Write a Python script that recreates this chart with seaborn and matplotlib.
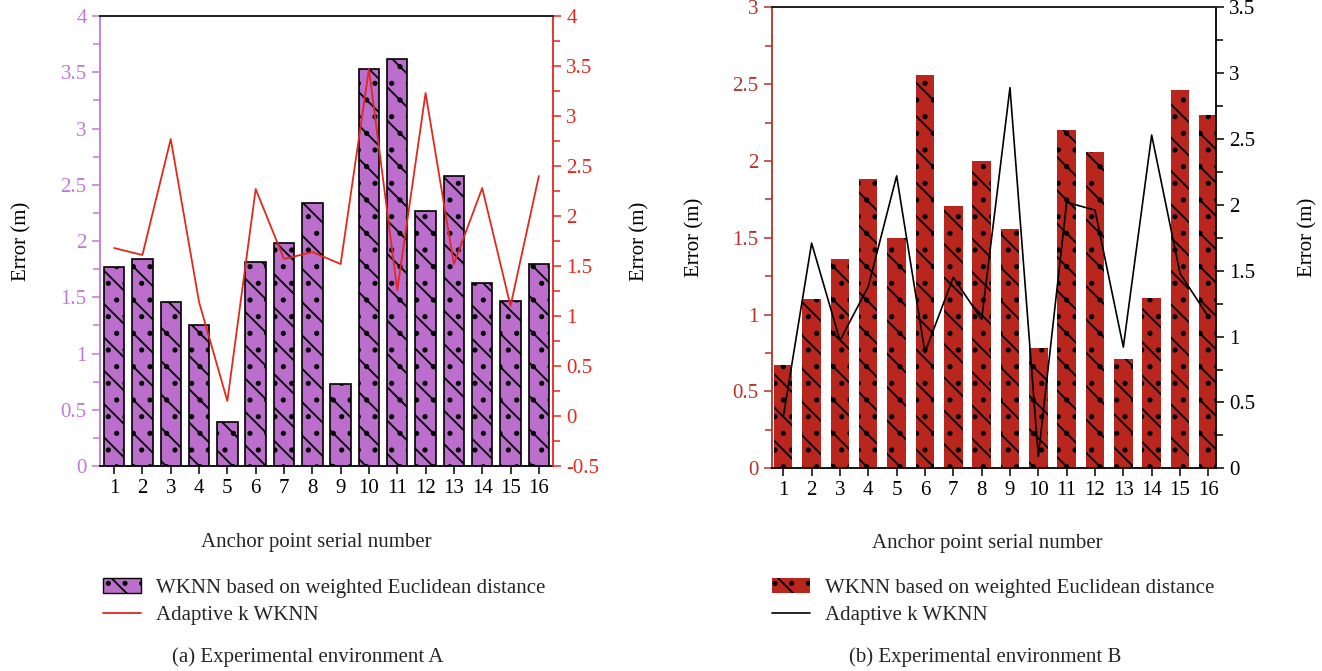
import matplotlib
matplotlib.use("Agg")
import matplotlib.pyplot as plt
import seaborn as sns
from matplotlib.lines import Line2D
from matplotlib.patches import Patch
from matplotlib.ticker import FuncFormatter, MultipleLocator

# Values (error in metres per anchor point)
anchors = list(range(1, 17))
wknn_a = [1.77, 1.84, 1.46, 1.25, 0.39, 1.81, 1.98, 2.34,
          0.73, 3.53, 3.62, 2.27, 2.58, 1.63, 1.47, 1.80]
adaptive_a = [1.68, 1.61, 2.77, 1.14, 0.15, 2.27, 1.57, 1.64,
              1.52, 3.47, 1.26, 3.23, 1.52, 2.28, 1.10, 2.40]
wknn_b = [0.67, 1.10, 1.36, 1.88, 1.50, 2.56, 1.71, 2.00,
          1.56, 0.78, 2.20, 2.06, 0.71, 1.11, 2.46, 2.30]
adaptive_b = [0.39, 1.71, 0.97, 1.38, 2.22, 0.88, 1.45, 1.13,
              2.89, 0.09, 2.02, 1.96, 0.92, 2.53, 1.48, 1.15]

bar_label = "WKNN based on weighted Euclidean distance"
line_label = "Adaptive k WKNN"

PURPLE = "#bb6ecb"
PURPLE_AXIS = "#c07ad6"
RED_LINE = "#e3281d"
RED_BAR = "#b9261e"
RED_AXIS = "#b3322a"
HATCH = "\\."

sns.set_theme(style="ticks")
plt.rcParams["font.family"] = ["Liberation Serif", "DejaVu Serif"]
plt.rcParams["axes.unicode_minus"] = False
plt.rcParams["hatch.linewidth"] = 1.3
FS = 15

fmt = FuncFormatter(lambda v, _: f"{v:g}")


def style_y(ax, lo, hi, color, side):
    ax.set_ylim(lo, hi)
    ax.yaxis.set_major_locator(MultipleLocator(0.5))
    ax.yaxis.set_minor_locator(MultipleLocator(0.25))
    ax.yaxis.set_major_formatter(fmt)
    ax.tick_params(axis="y", which="both", direction="out", colors=color,
                   labelsize=FS, width=1.1)
    ax.tick_params(axis="y", which="major", length=6)
    ax.tick_params(axis="y", which="minor", length=5)
    ax.spines[side].set_color(color)
    ax.spines[side].set_linewidth(1.3)


def style_x(ax, xlim, label_x, label_y):
    ax.set_xlim(*xlim)
    ax.set_xticks(anchors)
    ax.tick_params(axis="x", direction="out", length=6, width=1.1,
                   labelsize=FS, colors="black")
    ax.set_xlabel("Anchor point serial number", fontsize=FS)
    ax.xaxis.set_label_coords(label_x, label_y)
    for s in ("top", "bottom"):
        ax.spines[s].set_color("black")
        ax.spines[s].set_linewidth(1.3)


fig = plt.figure(figsize=(13.22, 6.71), dpi=100)

# ---- panel (a)
ax_a = fig.add_axes([0.0756, 0.3055, 0.3427, 0.6706])
sns.barplot(x=anchors, y=wknn_a, native_scale=True, width=0.72, color=PURPLE,
            saturation=1, edgecolor="black", linewidth=1.2, hatch=HATCH,
            ax=ax_a)
ax_a2 = ax_a.twinx()
sns.lineplot(x=anchors, y=adaptive_a, color=RED_LINE, linewidth=1.3, ax=ax_a2)
style_x(ax_a, (0.5, 16.5), 0.478, -0.149)
style_y(ax_a, 0, 4, PURPLE_AXIS, "left")
style_y(ax_a2, -0.5, 4, RED_LINE, "right")
ax_a.spines["right"].set_visible(False)
ax_a2.spines["left"].set_visible(False)
ax_a2.spines["bottom"].set_visible(False)
ax_a.set_ylabel("Error (m)", fontsize=FS, color="black", labelpad=21)
ax_a2.set_ylabel("Error (m)", fontsize=FS, color="black", labelpad=22)

fig.legend(handles=[Patch(facecolor=PURPLE, edgecolor="black", hatch=HATCH),
                    Line2D([], [], color=RED_LINE, linewidth=1.3)],
           labels=[bar_label, line_label], loc="upper left",
           bbox_to_anchor=(0.064, 0.166), frameon=False, fontsize=FS,
           handlelength=1.8, handletextpad=0.75, labelspacing=0.35)
fig.text(0.233, 0.02, "(a) Experimental environment A", fontsize=FS,
         ha="center", va="center")

# ---- panel (b)
ax_b = fig.add_axes([0.5837, 0.3021, 0.3359, 0.687])
sns.barplot(x=anchors, y=wknn_b, native_scale=True, width=0.65, color=RED_BAR,
            saturation=1, edgecolor="black", linewidth=0, hatch=HATCH,
            ax=ax_b)
ax_b2 = ax_b.twinx()
sns.lineplot(x=anchors, y=adaptive_b, color="black", linewidth=1.2, ax=ax_b2)
style_x(ax_b, (0.59, 16.26), 0.485, -0.142)
style_y(ax_b, 0, 3, RED_AXIS, "left")
style_y(ax_b2, 0, 3.5, "black", "right")
ax_b.spines["right"].set_visible(False)
ax_b2.spines["left"].set_visible(False)
ax_b2.spines["bottom"].set_visible(False)
ax_b.set_ylabel("Error (m)", fontsize=FS, color="black", labelpad=20)
ax_b2.set_ylabel("Error (m)", fontsize=FS, color="black", labelpad=31)

fig.legend(handles=[Patch(facecolor=RED_BAR, edgecolor="black", linewidth=0,
                          hatch=HATCH),
                    Line2D([], [], color="black", linewidth=1.2)],
           labels=[bar_label, line_label], loc="upper left",
           bbox_to_anchor=(0.570, 0.166), frameon=False, fontsize=FS,
           handlelength=1.8, handletextpad=0.75, labelspacing=0.35)
fig.text(0.745, 0.02, "(b) Experimental environment B", fontsize=FS,
         ha="center", va="center")

fig.savefig("out.png", dpi=100)
